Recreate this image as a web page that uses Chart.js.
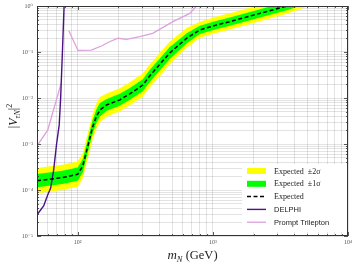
<!DOCTYPE html>
<html><head><meta charset="utf-8">
<script src="https://cdn.jsdelivr.net/npm/chart.js@4"></script>
<style>html,body{margin:0;padding:0;background:#fff}canvas{display:block}</style>
</head><body>
<canvas id="c" width="357" height="266"></canvas>
<script>
// ---- data ----
const masses = [50, 77, 100, 109, 119, 129, 138, 146, 164, 205, 243, 303, 341, 480, 641, 801, 1071, 1337, 2230, 3530, 5000, 8000];
const expected   = [1.58e-4, 1.86e-4, 2.19e-4, 3.31e-4, 9.12e-4, 2.34e-3, 4.07e-3, 5.50e-3, 7.08e-3, 9.12e-3, 1.23e-2, 1.91e-2, 3.02e-2, 9.55e-2, 0.200, 0.302, 0.389, 0.457, 0.692, 1.00, 1.38, 2.24];
const sigma2Up   = [3.02e-4, 3.55e-4, 4.17e-4, 6.31e-4, 1.74e-3, 4.47e-3, 7.76e-3, 1.05e-2, 1.26e-2, 1.62e-2, 2.19e-2, 3.39e-2, 5.37e-2, 0.170, 0.331, 0.457, 0.589, 0.692, 1.05, 1.51, 2.10, 3.30];
const sigma1Up   = [2.24e-4, 2.63e-4, 3.09e-4, 4.68e-4, 1.29e-3, 3.31e-3, 5.75e-3, 7.76e-3, 9.55e-3, 1.23e-2, 1.66e-2, 2.57e-2, 4.07e-2, 0.129, 0.257, 0.372, 0.479, 0.562, 0.851, 1.23, 1.70, 2.80];
const sigma1Down = [1.15e-4, 1.35e-4, 1.58e-4, 2.40e-4, 6.61e-4, 1.70e-3, 2.95e-3, 3.98e-3, 5.25e-3, 6.76e-3, 9.12e-3, 1.41e-2, 2.24e-2, 7.08e-2, 0.155, 0.245, 0.316, 0.372, 0.562, 0.813, 1.13, 1.90];
const sigma2Down = [8.5e-5, 1.00e-4, 1.17e-4, 1.78e-4, 4.90e-4, 1.26e-3, 2.19e-3, 2.95e-3, 3.98e-3, 5.13e-3, 6.92e-3, 1.07e-2, 1.70e-2, 5.37e-2, 0.123, 0.204, 0.263, 0.309, 0.468, 0.676, 0.98, 1.60];

const delphiMass  = [50, 56, 60, 63.1, 66.4, 69.8, 73, 74.8, 77.1, 79.3, 80];
const delphiValue = [2.9e-5, 4.5e-5, 7.8e-5, 1.1e-4, 2.7e-4, 1.0e-3, 2.6e-3, 1.0e-2, 0.1, 1.0, 1.5];

const trileptonMass  = [50, 60, 75.5, 80, 86, 100.5, 126, 150, 172, 199, 229, 288, 359, 506, 676, 757, 800];
const trileptonValue = [9.1e-4, 2.0e-3, 2.1e-2, null, 0.29, 0.108, 0.11, 0.135, 0.167, 0.199, 0.189, 0.215, 0.255, 0.456, 0.69, 1.0, 1.15];

const xTickValues = [100, 1000, 10000];
const xTickLabels = ['10²', '10³', '10⁴'];
const yTickValues = [1e-5, 1e-4, 1e-3, 1e-2, 1e-1, 1];
const yTickLabels = ['10⁻⁵', '10⁻⁴', '10⁻³', '10⁻²', '10⁻¹', '10⁰'];

const pts = (xs, ys) => xs.map((x, i) => ({x: x, y: ys[i]}));

function labelFor(values, labels, v) {
  for (let i = 0; i < values.length; i++) {
    if (Math.abs(Math.log10(v) - Math.log10(values[i])) < 1e-6) return labels[i];
  }
  return '';
}
function logTicks(scale) {
  const t = [];
  const lo = Math.floor(Math.log10(scale.min)), hi = Math.ceil(Math.log10(scale.max));
  for (let e = lo; e <= hi; e++) {
    for (let s = 1; s <= 9; s++) {
      const v = s * Math.pow(10, e);
      if (v >= scale.min * 0.9999 && v <= scale.max * 1.0001) t.push({value: v, major: s === 1});
    }
  }
  scale.ticks = t;
}

const serif = '"Liberation Serif", "DejaVu Serif", serif';
const sans = '"Liberation Sans", Arial, sans-serif';

const framePlugin = {
  id: 'frame',
  afterDraw(chart) {
    const {ctx, chartArea: a} = chart;
    ctx.save();
    // inward ticks on all four sides
    ctx.strokeStyle = '#333';
    ctx.lineWidth = 0.8;
    const xs = chart.scales.x, ys = chart.scales.y;
    xs.ticks.forEach(t => {
      const px = Math.round(xs.getPixelForValue(t.value)) + 0.5;
      const L = t.major ? 4 : 2;
      ctx.beginPath();
      ctx.moveTo(px, a.bottom); ctx.lineTo(px, a.bottom - L);
      ctx.moveTo(px, a.top); ctx.lineTo(px, a.top + L);
      ctx.stroke();
    });
    ys.ticks.forEach(t => {
      const py = Math.round(ys.getPixelForValue(t.value)) + 0.5;
      const L = t.major ? 4 : 2;
      ctx.beginPath();
      ctx.moveTo(a.left, py); ctx.lineTo(a.left + L, py);
      ctx.moveTo(a.right, py); ctx.lineTo(a.right - L, py);
      ctx.stroke();
    });
    // legend
    const lx = 242, ly = 164;
    ctx.fillStyle = '#fff';
    ctx.fillRect(lx, ly, 105, 68);
    const order = [2, 0, 4, 5, 6];
    order.forEach((di, k) => {
      const ds = chart.data.datasets[di];
      const cy = 171 + k * 12.8;
      if (di === 0 || di === 2) {
        ctx.fillStyle = ds.backgroundColor;
        ctx.fillRect(247, cy - 3, 19, 6);
      } else {
        ctx.strokeStyle = ds.borderColor;
        ctx.lineWidth = ds.borderWidth;
        ctx.setLineDash(ds.borderDash || []);
        ctx.beginPath(); ctx.moveTo(247, cy); ctx.lineTo(266, cy); ctx.stroke();
        ctx.setLineDash([]);
      }
      ctx.fillStyle = '#222';
      ctx.textBaseline = 'middle';
      ctx.textAlign = 'left';
      ctx.font = (k < 3 ? '8px ' + serif : '7.5px ' + sans);
      ctx.fillText(ds.label, 274, cy + 0.5);
    });
    // frame
    ctx.strokeStyle = '#333';
    ctx.lineWidth = 1;
    ctx.strokeRect(a.left + 0.5, a.top + 0.5, a.right - a.left - 1, a.bottom - a.top - 1);
    // x title
    ctx.fillStyle = '#222';
    ctx.textBaseline = 'alphabetic';
    const xParts = [
      {t: 'm', f: 'italic 13px ' + serif, dy: 0},
      {t: 'N', f: 'italic 8.5px ' + serif, dy: 3},
      {t: ' (GeV)', f: '12.5px ' + serif, dy: 0}
    ];
    drawParts(ctx, xParts, (a.left + a.right) / 2, 259);
    // y title
    ctx.translate(13, 116);
    ctx.rotate(-Math.PI / 2);
    const yParts = [
      {t: '|', f: '12px ' + serif, dy: 0},
      {t: 'V', f: 'italic 12px ' + serif, dy: 0},
      {t: 'τN', f: 'italic 8px ' + serif, dy: 3},
      {t: '|', f: '12px ' + serif, dy: 0},
      {t: '2', f: '8px ' + serif, dy: -5}
    ];
    drawParts(ctx, yParts, 0, 4);
    ctx.restore();
  }
};
function drawParts(ctx, parts, cx, by) {
  let w = 0;
  parts.forEach(p => { ctx.font = p.f; p.w = ctx.measureText(p.t).width; w += p.w; });
  let x = cx - w / 2;
  ctx.textAlign = 'left';
  parts.forEach(p => { ctx.font = p.f; ctx.fillText(p.t, x, by + p.dy); x += p.w; });
}

new Chart(document.getElementById('c'), {
  type: 'line',
  data: {
    datasets: [
      {label: 'Expected  ±1σ', data: pts(masses, sigma1Up), fill: '+1', backgroundColor: '#00ff00', borderColor: 'rgba(0,0,0,0)', borderWidth: 0, pointRadius: 0},
      {label: 'lo1', data: pts(masses, sigma1Down), fill: false, borderColor: 'rgba(0,0,0,0)', borderWidth: 0, pointRadius: 0},
      {label: 'Expected  ±2σ', data: pts(masses, sigma2Up), fill: '+1', backgroundColor: '#ffff00', borderColor: 'rgba(0,0,0,0)', borderWidth: 0, pointRadius: 0},
      {label: 'lo2', data: pts(masses, sigma2Down), fill: false, borderColor: 'rgba(0,0,0,0)', borderWidth: 0, pointRadius: 0},
      {label: 'Expected', data: pts(masses, expected), fill: false, borderColor: '#000', borderWidth: 1.5, borderDash: [4, 2.5], pointRadius: 0},
      {label: 'DELPHI', data: pts(delphiMass, delphiValue), fill: false, borderColor: '#4b1287', borderWidth: 1.4, pointRadius: 0},
      {label: 'Prompt Trilepton', data: pts(trileptonMass, trileptonValue), fill: false, borderColor: '#dda0dd', borderWidth: 1.3, pointRadius: 0, spanGaps: false}
    ]
  },
  options: {
    responsive: false,
    devicePixelRatio: 1,
    animation: false,
    events: [],
    layout: {padding: {top: 6, right: 9, left: 0, bottom: 0}},
    elements: {line: {tension: 0}},
    plugins: {legend: {display: false}, tooltip: {enabled: false}, filler: {drawTime: 'beforeDatasetsDraw'}},
    scales: {
      x: {
        type: 'logarithmic', min: 50, max: 10000,
        afterBuildTicks: logTicks,
        afterFit(s) { s.height = 30; s.paddingLeft = 0; s.paddingRight = 0; },
        grid: {color: 'rgba(0,0,0,0.11)', drawTicks: false},
        border: {display: false},
        ticks: {autoSkip: false, maxRotation: 0, padding: 3, color: '#555',
          font: {family: serif, size: 6},
          callback: (v) => labelFor(xTickValues, xTickLabels, v)}
      },
      y: {
        type: 'logarithmic', min: 1e-5, max: 1,
        afterBuildTicks: logTicks,
        afterFit(s) { s.width = 37; s.paddingTop = 0; s.paddingBottom = 0; },
        grid: {color: 'rgba(0,0,0,0.11)', drawTicks: false},
        border: {display: false},
        ticks: {autoSkip: false, padding: 4, color: '#555',
          font: {family: serif, size: 6},
          callback: (v) => labelFor(yTickValues, yTickLabels, v)}
      }
    }
  },
  plugins: [framePlugin]
});
</script>
</body></html>
